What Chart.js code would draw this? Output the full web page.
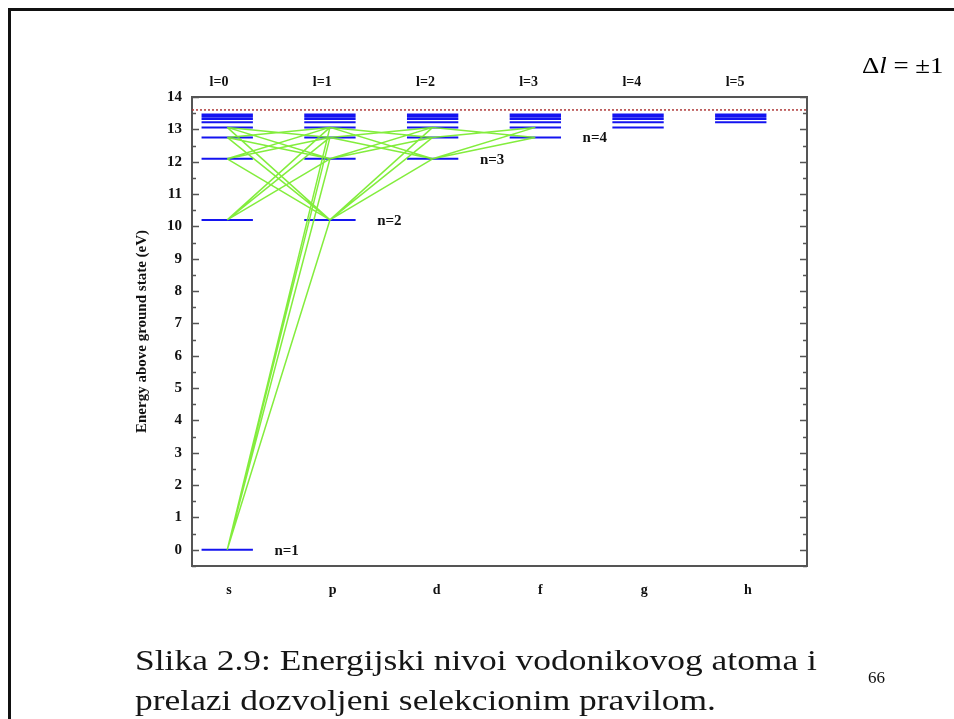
<!DOCTYPE html>
<html>
<head>
<meta charset="utf-8">
<title>Energijski nivoi vodonikovog atoma</title>
<script src="https://cdn.jsdelivr.net/npm/chart.js@4.4.1/dist/chart.umd.min.js"></script>
<style>
    html, body {
        margin: 0;
        padding: 0;
        background: #ffffff;
    }

    .slide {
        position: relative;
        width: 954px;
        height: 719px;
        overflow: hidden;
        background: #ffffff;
    }

    .frame {
        position: absolute;
        left: 8px;
        top: 8px;
        width: 1000px;
        height: 800px;
        border-left: 3px solid #111;
        border-top: 3px solid #111;
    }

    #levelChart {
        position: absolute;
        left: 0;
        top: 0;
    }

    .rule {
        position: absolute;
        left: 862px;
        top: 52px;
        font-family: "Liberation Serif", serif;
        font-size: 24px;
        color: #000;
        white-space: nowrap;
        transform: scaleX(1.12);
        transform-origin: left top;
    }

    .caption {
        position: absolute;
        left: 135px;
        font-family: "Liberation Serif", serif;
        font-size: 30px;
        color: #161616;
        white-space: nowrap;
        transform: scaleX(1.182);
        transform-origin: left top;
    }

    .page {
        position: absolute;
        left: 868px;
        top: 668px;
        font-family: "Liberation Serif", serif;
        font-size: 17px;
        color: #111;
    }
</style>
</head>
<body>
<div class="slide">
    <div class="frame"></div>
    <canvas id="levelChart" width="954" height="719"></canvas>
    <div class="rule">&Delta;<i>l</i> = &plusmn;1</div>
    <div class="caption" style="top: 643px;">Slika 2.9: Energijski nivoi vodonikovog atoma i</div>
    <div class="caption" style="top: 683px;">prelazi dozvoljeni selekcionim pravilom.</div>
    <div class="page">66</div>
</div>

<script>
/* ==========================================
   Data
========================================== */

// energy of level n = 1..10 above the ground state (eV)
const levelEnergies = [0, 10.2, 12.09, 12.75, 13.06, 13.22, 13.32, 13.39, 13.43, 13.46];

// ionization limit (dotted red line)
const ionizationEnergy = 13.6;

// columns l = 0..5
const columnLabels = ["s", "p", "d", "f", "g", "h"];
const orbitalLabels = ["l=0", "l=1", "l=2", "l=3", "l=4", "l=5"];
const columnValues = [0, 1, 2, 3, 4, 5];

const yTickValues = [0, 1, 2, 3, 4, 5, 6, 7, 8, 9, 10, 11, 12, 13, 14];

// allowed transitions: [n, l] -> [n, l]
const transitions = [
    [1, 0, 2, 1], [1, 0, 3, 1], [1, 0, 4, 1], [1, 0, 5, 1],
    [2, 0, 3, 1], [2, 0, 4, 1], [2, 0, 5, 1],
    [3, 0, 2, 1], [3, 0, 4, 1], [3, 0, 5, 1],
    [4, 0, 2, 1], [4, 0, 3, 1], [4, 0, 5, 1],
    [5, 0, 2, 1], [5, 0, 3, 1], [5, 0, 4, 1],
    [2, 1, 3, 2], [2, 1, 4, 2], [2, 1, 5, 2],
    [3, 1, 4, 2], [3, 1, 5, 2],
    [4, 1, 3, 2], [4, 1, 5, 2],
    [5, 1, 3, 2], [5, 1, 4, 2],
    [3, 2, 4, 3], [3, 2, 5, 3],
    [4, 2, 5, 3],
    [5, 2, 4, 3]
];

// shell labels next to the lowest level of each column
const shellLabels = ["n=1", "n=2", "n=3", "n=4"];

/* ==========================================
   Build line points
========================================== */

const HALF = 0.25;

const levelPoints = [];
columnValues.forEach(l => {
    levelEnergies.forEach((e, i) => {
        if (i + 1 > l) {
            levelPoints.push({ x: l - HALF, y: e });
            levelPoints.push({ x: l + HALF, y: e });
            levelPoints.push({ x: l, y: null });
        }
    });
});

const transitionPoints = [];
transitions.forEach(t => {
    transitionPoints.push({ x: t[1], y: levelEnergies[t[0] - 1] });
    transitionPoints.push({ x: t[3], y: levelEnergies[t[2] - 1] });
    transitionPoints.push({ x: t[3], y: null });
});

const X_MIN = -0.343;
const X_MAX = 5.645;

/* ==========================================
   Inward ticks + n labels
========================================== */

const extrasPlugin = {
    id: "extras",
    afterDatasetsDraw(chart) {
        const ctx = chart.ctx;
        const y = chart.scales.y;
        const x = chart.scales.x;
        const area = chart.chartArea;

        ctx.save();
        ctx.strokeStyle = "#555";
        ctx.lineWidth = 1.5;
        yTickValues.forEach(v => {
            [v, v - 0.5].forEach((tv, k) => {
                const py = Math.round(y.getPixelForValue(tv)) + 0.5;
                const len = k === 0 ? 7 : 4;
                ctx.beginPath();
                ctx.moveTo(area.left, py);
                ctx.lineTo(area.left + len, py);
                ctx.moveTo(area.right, py);
                ctx.lineTo(area.right - len, py);
                ctx.stroke();
            });
        });

        ctx.fillStyle = "#111";
        ctx.font = "bold 15px 'Liberation Serif'";
        ctx.textBaseline = "middle";
        ctx.textAlign = "left";
        shellLabels.forEach((txt, i) => {
            const px = x.getPixelForValue(i + 0.46);
            const py = y.getPixelForValue(levelEnergies[i]);
            ctx.fillText(txt, px, py + 1);
        });
        ctx.restore();
    }
};

/* ==========================================
   Chart
========================================== */

Chart.defaults.font.family = "'Liberation Serif', serif";
Chart.defaults.font.weight = "bold";
Chart.defaults.color = "#111";

const chartCanvas = document.getElementById("levelChart");

new Chart(chartCanvas.getContext("2d"), {

    type: "scatter",

    data: {
        datasets: [
            {
                label: "Transitions",
                data: transitionPoints,
                showLine: true,
                spanGaps: false,
                borderColor: "rgba(120,236,44,0.92)",
                borderWidth: 1.5,
                pointRadius: 0
            },
            {
                label: "Levels",
                data: levelPoints,
                showLine: true,
                spanGaps: false,
                borderColor: "#1414f0",
                borderWidth: 2,
                pointRadius: 0
            },
            {
                label: "Ionization",
                data: [{ x: X_MIN, y: ionizationEnergy }, { x: X_MAX, y: ionizationEnergy }],
                showLine: true,
                borderColor: "#b03a3a",
                borderWidth: 1.5,
                borderDash: [2, 2],
                pointRadius: 0
            }
        ]
    },

    options: {
        responsive: false,
        animation: false,
        layout: {
            padding: { left: 131, right: 147, top: 0, bottom: 0 }
        },
        plugins: {
            legend: { display: false },
            tooltip: { enabled: false }
        },
        scales: {
            x: {
                type: "linear",
                display: false,
                min: X_MIN,
                max: X_MAX
            },
            xb: {
                type: "linear",
                position: "bottom",
                min: -0.356,
                max: 5.569,
                afterBuildTicks: s => { s.ticks = columnValues.map(v => ({ value: v })); },
                afterFit: s => { s.height = 153; },
                grid: { display: false, drawTicks: false },
                border: { display: true, color: "#555", width: 2 },
                ticks: {
                    padding: 16,
                    font: { size: 14, weight: "bold" },
                    callback: v => columnLabels[v]
                }
            },
            xt: {
                type: "linear",
                position: "top",
                min: -0.262,
                max: 5.697,
                afterBuildTicks: s => { s.ticks = columnValues.map(v => ({ value: v })); },
                afterFit: s => { s.height = 97; },
                grid: { display: false, drawTicks: false },
                border: { display: true, color: "#555", width: 2 },
                ticks: {
                    padding: 6,
                    font: { size: 14, weight: "bold" },
                    callback: v => orbitalLabels[v]
                }
            },
            y: {
                position: "left",
                min: -0.5,
                max: 14,
                afterBuildTicks: s => { s.ticks = yTickValues.map(v => ({ value: v })); },
                afterFit: s => { s.width = 61; },
                grid: { display: false, drawTicks: false },
                border: { display: true, color: "#555", width: 2 },
                title: {
                    display: true,
                    text: "Energy above ground state (eV)",
                    font: { size: 15, weight: "bold" },
                    padding: 2
                },
                ticks: {
                    padding: 10,
                    font: { size: 15, weight: "bold" }
                }
            },
            y2: {
                position: "right",
                min: -0.5,
                max: 14,
                afterFit: s => { s.width = 0; },
                grid: { display: false, drawTicks: false },
                border: { display: true, color: "#555", width: 2 },
                ticks: { display: false }
            }
        }
    },

    plugins: [extrasPlugin]

});
</script>
</body>
</html>
